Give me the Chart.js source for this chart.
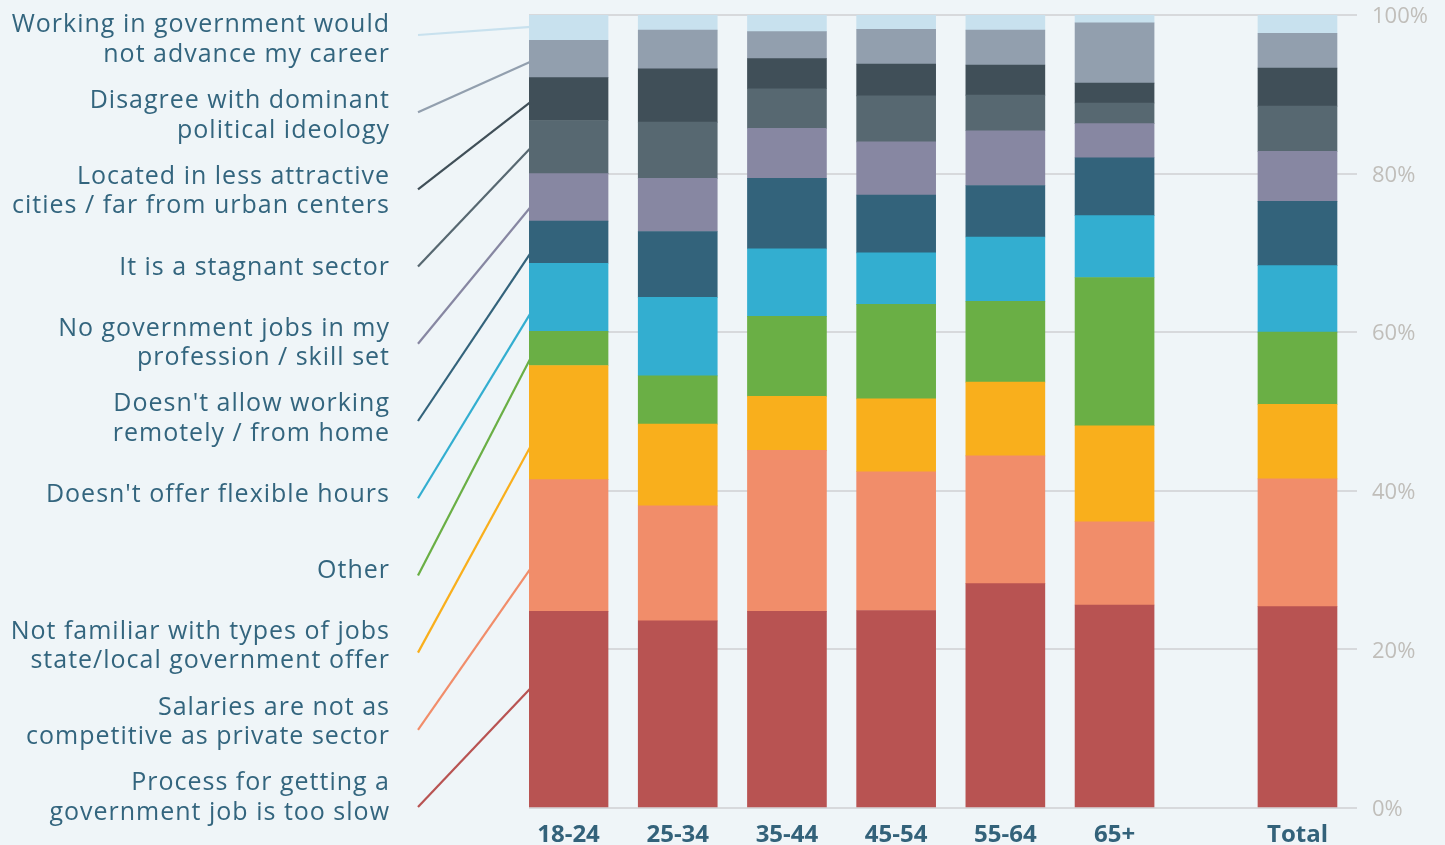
<!DOCTYPE html>
<html>
<head>
<meta charset="utf-8">
<title>Reasons not to work in government</title>
<script src="https://cdn.jsdelivr.net/npm/chart.js@4.4.0/dist/chart.umd.min.js"></script>
<style>
  html, body { margin: 0; padding: 0; background: #eff5f8; }
  #wrap { width: 1445px; height: 845px; }
</style>
</head>
<body>
<div id="wrap"><canvas id="reasons" width="1445" height="845"></canvas></div>
<script>
// age groups, plus the overall column set apart on the right
var groups    = ['18-24', '25-34', '35-44', '45-54', '55-64', '65+', 'Total'];
var groupPos  = [0, 1, 2, 3, 4, 5, 6.675];
var yTicks    = [0, 20, 40, 60, 80, 100];

// share of respondents (%) per reason, one value per group
var tooSlow      = [24.8, 23.6, 24.8, 24.9, 28.3, 25.6, 25.4];
var salaries     = [16.6, 14.5, 20.3, 17.5, 16.1, 10.5, 16.1];
var notFamiliar  = [14.4, 10.3, 6.8, 9.2, 9.3, 12.1, 9.4];
var other        = [4.3, 6.1, 10.1, 11.9, 10.2, 18.7, 9.1];
var flexHours    = [8.6, 9.9, 8.5, 6.5, 8.1, 7.8, 8.4];
var remote       = [5.3, 8.3, 8.9, 7.3, 6.5, 7.3, 8.1];
var noJobs       = [6.0, 6.7, 6.3, 6.7, 6.9, 4.3, 6.3];
var stagnant     = [6.7, 7.1, 5.0, 5.8, 4.5, 2.6, 5.7];
var located      = [5.4, 6.7, 3.8, 4.0, 3.8, 2.5, 4.8];
var ideology     = [4.7, 4.9, 3.4, 4.4, 4.4, 7.6, 4.4];
var noAdvance    = [3.4, 2.1, 2.1, 1.9, 1.9, 1.1, 2.5];

// bottom of the stack first
var series = [
  { label: ['Process for getting a', 'government job is too slow'], data: tooSlow, color: '#b85352', at: 0.39 },
  { label: ['Salaries are not as', 'competitive as private sector'], data: salaries, color: '#f18d6a', at: 0.67 },
  { label: ['Not familiar with types of jobs', 'state/local government offer'], data: notFamiliar, color: '#f9af1c', at: 0.70 },
  { label: ['Other'], data: other, color: '#6aaf45', at: 0.76 },
  { label: ["Doesn't offer flexible hours"], data: flexHours, color: '#33aed0', at: 0.72 },
  { label: ["Doesn't allow working", 'remotely / from home'], data: remote, color: '#33637b', at: 0.74 },
  { label: ['No government jobs in my', 'profession / skill set'], data: noJobs, color: '#8787a2', at: 0.69 },
  { label: ['It is a stagnant sector'], data: stagnant, color: '#576871', at: 0.51 },
  { label: ['Located in less attractive', 'cities / far from urban centers'], data: located, color: '#404f58', at: 0.56 },
  { label: ['Disagree with dominant', 'political ideology'], data: ideology, color: '#929fae', at: 0.57 },
  { label: ['Working in government would', 'not advance my career'], data: noAdvance, color: '#c8e1ee', at: 0.5 }
];

var FONT = '"Open Sans", Lato, sans-serif';
var TEXT = '#33657e';

// left-hand labels with leader lines into the first column
var leaders = {
  id: 'leaders',
  beforeDatasetsDraw: function(chart) {
    var ctx = chart.ctx;
    var n = series.length;
    ctx.save();
    for (var k = 0; k < n; k++) {
      var di = n - 1 - k;               // k counts from the top label down
      var s = series[di];
      var bar = chart.getDatasetMeta(di).data[0];
      var top = Math.min(bar.y, bar.base), bot = Math.max(bar.y, bar.base);
      var ty = top + s.at * (bot - top);
      var sy = 35 + k * 77.2;
      ctx.strokeStyle = s.color;
      ctx.lineWidth = 2.2;
      ctx.beginPath();
      ctx.moveTo(418, sy);
      ctx.lineTo(bar.x - bar.width / 2 + 2, ty);
      ctx.stroke();

      var cy = 40 + k * 75.8;
      var lines = s.label;
      ctx.fillStyle = TEXT;
      ctx.font = '25px ' + FONT;
      ctx.letterSpacing = '1px';
      ctx.textAlign = 'right';
      ctx.textBaseline = 'middle';
      for (var j = 0; j < lines.length; j++) {
        var ly = cy + (j - (lines.length - 1) / 2) * 29.5;
        ctx.fillText(lines[j], 390, ly);
      }
    }
    ctx.restore();
  }
};

var ctx = document.getElementById('reasons').getContext('2d');
var chart = new Chart(ctx, {
  type: 'bar',
  data: {
    datasets: series.map(function(s) {
      return {
        label: s.label.join(' '),
        data: s.data.map(function(v, i) { return { x: groupPos[i], y: v }; }),
        backgroundColor: s.color,
        borderWidth: 0,
        barThickness: 79
      };
    })
  },
  options: {
    responsive: false,
    animation: false,
    layout: { padding: { left: 529, top: 15, right: 0, bottom: 0 } },
    plugins: { legend: { display: false }, tooltip: { enabled: false } },
    scales: {
      x: {
        type: 'linear',
        stacked: true,
        offset: false,
        min: -0.362,
        max: 7.22,
        grid: { display: false, offset: false },
        border: { display: false },
        afterBuildTicks: function(scale) {
          scale.ticks = groupPos.map(function(v) { return { value: v }; });
        },
        afterFit: function(scale) { scale.height = 37; },
        ticks: {
          autoSkip: false,
          maxRotation: 0,
          padding: 5,
          color: '#33627a',
          font: { family: FONT, size: 24, weight: 'bold' },
          callback: function(v) { return groups[groupPos.indexOf(v)]; }
        }
      },
      y: {
        stacked: true,
        position: 'right',
        min: 0,
        max: 100,
        afterBuildTicks: function(scale) {
          scale.ticks = yTicks.map(function(v) { return { value: v }; });
        },
        afterFit: function(scale) {
          scale.width = 88;
          scale.paddingTop = 0;
          scale.paddingBottom = 0;
        },
        grid: { color: '#d7d9dc', lineWidth: 2, drawTicks: false },
        border: { display: false },
        ticks: {
          padding: 15,
          labelOffset: 2,
          color: '#c0beba',
          font: { family: FONT, size: 22 },
          callback: function(v) { return v + '%'; }
        }
      }
    }
  },
  plugins: [leaders]
});
</script>
</body>
</html>
